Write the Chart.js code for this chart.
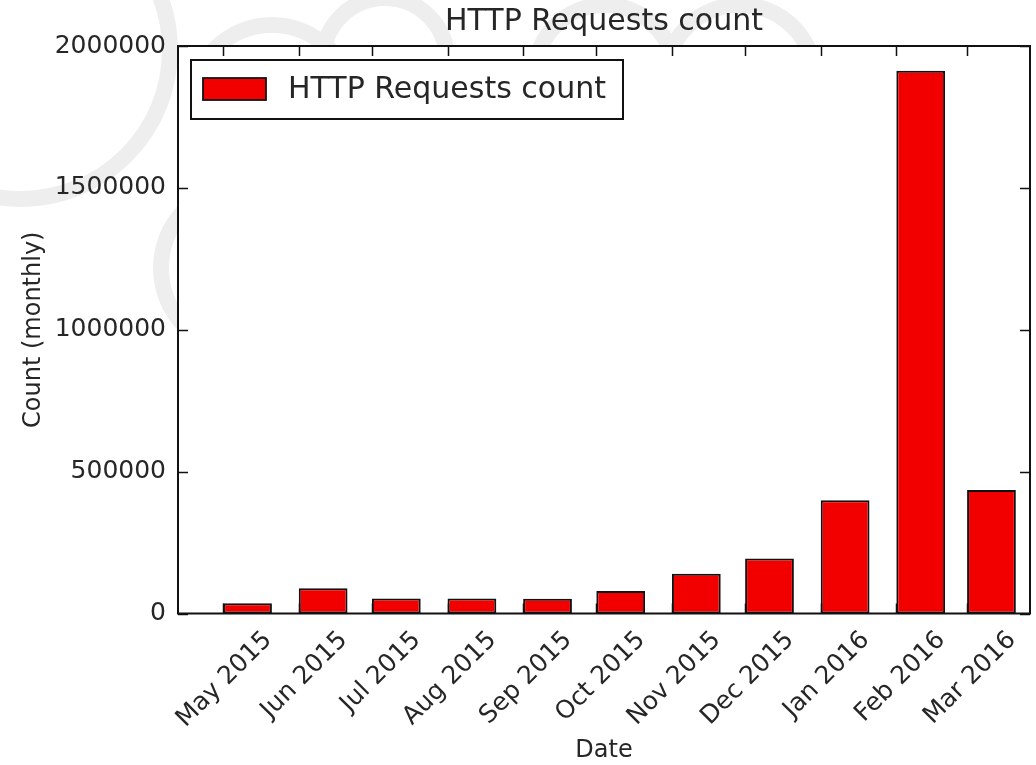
<!DOCTYPE html>
<html>
<head>
<meta charset="utf-8">
<script src="https://cdn.jsdelivr.net/npm/chart.js@4/dist/chart.umd.min.js"></script>
<style>
  html, body { margin: 0; padding: 0; background: #fff; }
  #wrap { width: 1036px; height: 765px; }
</style>
</head>
<body>
<div id="wrap"><canvas id="myChart" width="1036" height="765"></canvas></div>
<script>
// month of each bar (year, month index) and what the axis prints under it
const years = [2015, 2015, 2015, 2015, 2015, 2015, 2015, 2015, 2016, 2016, 2016];
const monthIdx = [4, 5, 6, 7, 8, 9, 10, 11, 0, 1, 2];
const tickLabels = ['May 2015', 'Jun 2015', 'Jul 2015', 'Aug 2015', 'Sep 2015', 'Oct 2015',
                    'Nov 2015', 'Dec 2015', 'Jan 2016', 'Feb 2016', 'Mar 2016'];
const counts = [36000, 89000, 53000, 53000, 52000, 79000, 140000, 194000, 399000, 1913000, 435000];
const yTicks = [0, 500000, 1000000, 1500000, 2000000];

const seriesLabel = 'HTTP Requests count';
const barDays = 20;   // bar width in days, starting at the 1st of the month

const DAY = 86400000;
const monthStarts = years.map((y, i) => Date.UTC(y, monthIdx[i], 1) / DAY);
const points = monthStarts.map((d, i) => ({ x: d + barDays / 2, y: counts[i] }));

const FONT = "'DejaVu Sans', sans-serif";
const INK = '#262626';

// faint watermark rings behind the figure
const rings = [[21, 50, 149], [243, 268, 82], [272, 105, 80], [385, 60, 62], [605, 75, 70], [740, 80, 75]];

const decor = {
  id: 'decor',
  beforeDraw(chart) {
    const { ctx, chartArea: a } = chart;
    ctx.save();
    ctx.fillStyle = '#fff';
    ctx.fillRect(0, 0, chart.width, chart.height);
    ctx.strokeStyle = '#eeeeee';
    ctx.lineWidth = 16;
    rings.forEach(([cx, cy, r]) => {
      ctx.beginPath();
      ctx.arc(cx, cy, r, 0, Math.PI * 2);
      ctx.stroke();
    });
    ctx.fillStyle = '#fff';
    ctx.fillRect(a.left, a.top, a.right - a.left, a.bottom - a.top);
    ctx.restore();
  },
  afterDraw(chart) {
    const { ctx, chartArea: a, scales: { x, y } } = chart;
    const tl = 10;
    ctx.save();
    ctx.strokeStyle = '#111';
    ctx.lineWidth = 1.5;
    ctx.beginPath();
    monthStarts.forEach(d => {
      const px = Math.round(x.getPixelForValue(d)) + 0.5;
      ctx.moveTo(px, a.top); ctx.lineTo(px, a.top + tl);
      ctx.moveTo(px, a.bottom); ctx.lineTo(px, a.bottom - tl);
    });
    yTicks.forEach(v => {
      const py = Math.round(y.getPixelForValue(v)) + 0.5;
      ctx.moveTo(a.left, py); ctx.lineTo(a.left + tl, py);
      ctx.moveTo(a.right, py); ctx.lineTo(a.right - tl, py);
    });
    ctx.stroke();
    ctx.lineWidth = 2;
    ctx.strokeRect(a.left, a.top, a.right - a.left, a.bottom - a.top);

    // legend box in the upper left of the axes
    const lx = a.left + 13, ly = a.top + 14, lw = 432, lh = 59;
    ctx.fillStyle = '#fff';
    ctx.fillRect(lx, ly, lw, lh);
    ctx.lineWidth = 2;
    ctx.strokeStyle = '#111';
    ctx.strokeRect(lx, ly, lw, lh);
    ctx.fillStyle = chart.data.datasets[0].backgroundColor;
    ctx.fillRect(lx + 12, ly + 18, 63, 22);
    ctx.lineWidth = 1.8;
    ctx.strokeRect(lx + 12, ly + 18, 63, 22);
    ctx.fillStyle = INK;
    ctx.font = '30px ' + FONT;
    ctx.textBaseline = 'middle';
    ctx.fillText(chart.data.datasets[0].label, lx + 97, ly + 30);
    ctx.restore();
  }
};

new Chart(document.getElementById('myChart'), {
  type: 'bar',
  data: {
    datasets: [{
      label: seriesLabel,
      data: points,
      backgroundColor: '#f20000',
      borderColor: '#111',
      borderWidth: 2,
      borderSkipped: false,
      barPercentage: 1,
      categoryPercentage: barDays / 29
    }]
  },
  options: {
    responsive: false,
    animation: false,
    layout: { padding: { top: 0, right: 6, bottom: 0, left: 0 } },
    plugins: {
      legend: { display: false },
      tooltip: { enabled: false },
      title: {
        display: true,
        fullSize: false,
        text: 'HTTP Requests count',
        color: INK,
        font: { family: FONT, size: 30, weight: 'normal' },
        padding: { top: 4, bottom: 6 }
      }
    },
    scales: {
      x: {
        type: 'linear',
        offset: false,
        min: monthStarts[0] - 18.5,
        max: monthStarts[monthStarts.length - 1] + 25.8,
        grid: { display: false, drawTicks: false, offset: false },
        border: { display: false },
        afterBuildTicks: s => { s.ticks = monthStarts.map(v => ({ value: v })); },
        afterFit: s => { s.height = 151.5; },
        ticks: {
          autoSkip: false,
          minRotation: 45,
          maxRotation: 45,
          padding: 12,
          labelOffset: 45,
          color: INK,
          font: { family: FONT, size: 25 },
          callback: (v, i) => tickLabels[i]
        },
        title: {
          display: true,
          text: 'Date',
          color: INK,
          font: { family: FONT, size: 24 },
          padding: { top: 0, bottom: 0 }
        }
      },
      y: {
        min: 0,
        max: 2000000,
        grid: { display: false, drawTicks: false },
        border: { display: false },
        afterBuildTicks: s => { s.ticks = yTicks.map(v => ({ value: v })); },
        afterFit: s => { s.width = 178; },
        ticks: {
          padding: 12,
          color: INK,
          font: { family: FONT, size: 25 },
          callback: v => String(v)
        },
        title: {
          display: true,
          text: 'Count (monthly)',
          color: INK,
          font: { family: FONT, size: 24 },
          padding: { top: 19, bottom: 0 }
        }
      }
    }
  },
  plugins: [decor]
});
</script>
</body>
</html>
